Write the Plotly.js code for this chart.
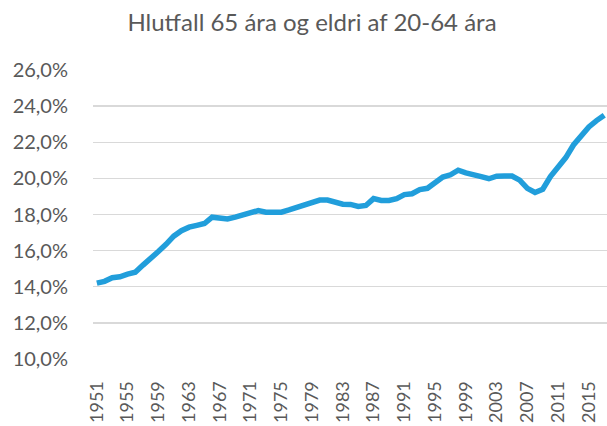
<!DOCTYPE html>
<html>
<head>
<meta charset="utf-8">
<script src="https://cdn.plot.ly/plotly-3.0.1.min.js"></script>
<style>html,body{margin:0;padding:0;background:#fff;}#chart{width:607px;height:426px;}</style>
</head>
<body>
<div id="chart"></div>
<script>
const years = [];
for (let y = 1951; y <= 2017; y++) years.push(y);
const ratio = [
  14.2, 14.3, 14.5, 14.55, 14.7, 14.8, 15.2, 15.55, 15.95, 16.35,
  16.8, 17.1, 17.3, 17.4, 17.5, 17.85, 17.78, 17.75, 17.85, 18.0,
  18.1, 18.22, 18.13, 18.13, 18.13, 18.25, 18.4, 18.58, 18.7, 18.8,
  18.8, 18.7, 18.57, 18.56, 18.45, 18.5, 18.88, 18.78, 18.78, 18.88,
  19.1, 19.15, 19.38, 19.45, 19.8, 20.07, 20.2, 20.45, 20.3, 20.22,
  20.1, 19.98, 20.12, 20.13, 20.13, 19.9, 19.45, 19.22, 19.4, 20.1,
  20.6, 21.15, 21.85, 22.35, 22.85, 23.2, 23.5
];
const xTickVals = [1951,1955,1959,1963,1967,1971,1975,1979,1983,1987,1991,1995,1999,2003,2007,2011,2015];
const xTickText = xTickVals.map(String);
const yTickVals = [10,12,14,16,18,20,22,24,26];
const yTickText = ['10,0%','12,0%','14,0%','16,0%','18,0%','20,0%','22,0%','24,0%','26,0%'];
const titleText = 'Hlutfall 65 ára og eldri af 20-64 ára';

const FONT = 'Lato, "Open Sans", sans-serif';
const GREY = '#595959';

Plotly.newPlot('chart', [{
  x: years, y: ratio, type: 'scatter', mode: 'lines',
  line: {color: '#219edb', width: 5.5, shape: 'linear'},
  hoverinfo: 'skip'
}], {
  width: 607, height: 426,
  margin: {l: 93, r: 0, t: 70, b: 67},
  paper_bgcolor: '#fff', plot_bgcolor: '#fff',
  showlegend: false,
  font: {family: FONT, color: GREY, size: 20},
  title: {text: titleText, x: 0.514, xanchor: 'center', y: 1 - 23/426, yanchor: 'middle', yref: 'container',
          font: {family: FONT, size: 24, color: GREY}},
  xaxis: {
    range: [1950.5, 2017.36], tickmode: 'array', tickvals: xTickVals, ticktext: xTickText,
    tickangle: -90, ticks: 'outside', ticklen: 14, tickcolor: 'rgba(0,0,0,0)',
    showgrid: false, zeroline: false, showline: false,
    tickfont: {family: FONT, size: 18, color: GREY}
  },
  yaxis: {
    range: [10, 26], tickmode: 'array', tickvals: yTickVals, ticktext: yTickText,
    ticks: 'outside', ticklen: 20, tickcolor: 'rgba(0,0,0,0)',
    showgrid: true, gridcolor: '#d9d9d9', gridwidth: 1.3,
    zeroline: false, showline: false,
    tickfont: {family: FONT, size: 20, color: GREY}
  }
}, {staticPlot: true});
</script>
</body>
</html>
